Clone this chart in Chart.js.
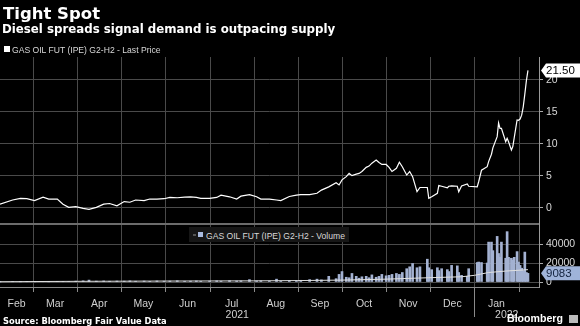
<!DOCTYPE html>
<html>
<head>
<meta charset="utf-8">
<script src="https://cdn.jsdelivr.net/npm/chart.js@4/dist/chart.umd.min.js"></script>
<style>
  body { margin: 0; background: #000; }
  #wrap { position: relative; width: 580px; height: 326px; overflow: hidden; background: #000; }
  canvas { position: absolute; left: 0; top: 0; }
  .t { position: absolute; white-space: nowrap; line-height: 1; color: #fff; }
  #title { left: 3px; top: 3.5px; font: bold 16.5px "DejaVu Sans", sans-serif; }
  #sub { left: 2px; top: 22px; font: bold 11.8px "DejaVu Sans", sans-serif; }
  .leg { font: 8.6px "Liberation Sans", Arial, sans-serif; color: #d8d8d8; }
  #leg1 { left: 12px; top: 45px; }
  #sq1 { position: absolute; left: 4px; top: 46px; width: 6px; height: 6px; background: #fff; }
  #legbox { position: absolute; left: 189px; top: 227px; width: 160px; height: 15px; background: #161616; }
  #dot2 { position: absolute; left: 193px; top: 234px; width: 3px; height: 2px; background: #555; }
  #sq2 { position: absolute; left: 198px; top: 232px; width: 5px; height: 5px; background: #a9bbe0; }
  #leg2 { left: 206px; top: 230.6px; }
  #src { left: 3px; top: 315.7px; font: bold 8.3px "DejaVu Sans", sans-serif; }
  #bbg { left: 507px; top: 312px; font: bold 10.6px "Liberation Sans", Arial, sans-serif; }
  #logo { position: absolute; left: 569px; top: 315px; width: 9px; height: 8px; background: #bbb; }
</style>
</head>
<body>
<div id="wrap">
  <canvas id="chart" width="580" height="326"></canvas>
  <div class="t" id="title">Tight Spot</div>
  <div class="t" id="sub">Diesel spreads signal demand is outpacing supply</div>
  <div id="sq1"></div>
  <div class="t leg" id="leg1">GAS OIL FUT (IPE) G2-H2 - Last Price</div>
  <div id="legbox"></div>
  <div id="dot2"></div>
  <div id="sq2"></div>
  <div class="t leg" id="leg2">GAS OIL FUT (IPE) G2-H2 - Volume</div>
  <div class="t" id="src">Source: Bloomberg Fair Value Data</div>
  <div class="t" id="bbg">Bloomberg</div>
  <div id="logo"></div>
</div>
<script>
// data
const dates = [
  '2021-02-08','2021-02-16','2021-02-21','2021-02-25',
  '2021-03-02','2021-03-08','2021-03-12','2021-03-18','2021-03-22','2021-03-26','2021-03-31',
  '2021-04-05','2021-04-09','2021-04-14','2021-04-19','2021-04-23','2021-04-28',
  '2021-05-03','2021-05-07','2021-05-11','2021-05-17','2021-05-21','2021-05-26','2021-05-31',
  '2021-06-04','2021-06-09','2021-06-14','2021-06-18','2021-06-22','2021-06-25',
  '2021-07-01','2021-07-06','2021-07-09','2021-07-15','2021-07-20','2021-07-23','2021-07-29',
  '2021-08-03','2021-08-06','2021-08-12','2021-08-17','2021-08-20','2021-08-26','2021-08-31',
  '2021-09-03','2021-09-09','2021-09-14','2021-09-17','2021-09-22','2021-09-27','2021-09-29',
  '2021-10-01','2021-10-04','2021-10-06','2021-10-08','2021-10-11','2021-10-13','2021-10-15',
  '2021-10-18','2021-10-20','2021-10-22','2021-10-25','2021-10-27','2021-10-29',
  '2021-11-01','2021-11-03','2021-11-05','2021-11-08','2021-11-10','2021-11-12','2021-11-15',
  '2021-11-17','2021-11-19','2021-11-22','2021-11-24','2021-11-29','2021-11-30',
  '2021-12-02','2021-12-06','2021-12-07','2021-12-09','2021-12-13','2021-12-14','2021-12-16',
  '2021-12-20','2021-12-21','2021-12-23','2021-12-27','2021-12-28',
  '2022-01-03','2022-01-04','2022-01-06','2022-01-10','2022-01-11','2022-01-13','2022-01-14',
  '2022-01-17','2022-01-18','2022-01-19','2022-01-20','2022-01-23','2022-01-24','2022-01-25',
  '2022-01-27','2022-01-28','2022-01-29','2022-01-31',
  '2022-02-01','2022-02-02','2022-02-03','2022-02-04','2022-02-05','2022-02-06','2022-02-07'
];
const lastPrice = [
  0.6, 1.25, 1.5, 1.45,
  1.15, 1.7, 1.4, 1.4, 0.6, 0.1, 0.2,
  -0.05, -0.2, 0.1, 0.6, 0.7, 0.35,
  1.0, 0.9, 1.25, 1.15, 1.4, 1.4, 1.45,
  1.65, 1.6, 1.7, 1.75, 1.65, 1.5,
  1.5, 1.65, 2.0, 1.75, 1.4, 1.85, 2.1,
  1.75, 1.4, 1.4, 1.25, 1.15, 1.8, 2.0,
  2.1, 2.1, 2.3, 2.8, 3.3, 3.95, 3.6,
  4.4, 4.9, 5.4, 5.05, 5.3, 5.4, 5.7,
  6.35, 6.55, 7.0, 7.5, 7.1, 6.8,
  6.8, 6.35, 5.7, 6.2, 7.15, 6.45, 5.15,
  5.7, 4.9, 2.55, 3.2, 3.2, 1.5,
  1.75, 2.3, 3.5, 3.4, 3.15, 3.4, 3.45,
  3.4, 2.55, 3.45, 3.75, 3.4,
  3.3, 4.1, 5.9, 6.45, 7.25, 8.4, 9.4,
  11.15, 13.3, 12.45, 12.45, 10.35, 10.9, 10.35,
  9.05, 9.6, 11.0, 13.75,
  13.7, 13.9, 14.5, 15.8, 17.8, 19.9, 21.5
];
const volume = [
  200, 300, 200, 300,
  200, 300, 200, 400, 300, 500, 900,
  1200, 2000, 900, 1100, 800, 1000,
  900, 1200, 800, 1000, 700, 1100, 900,
  1000, 1300, 800, 900, 1100, 800,
  1000, 1200, 900, 1400, 1000, 1200, 2500,
  1100, 1300, 1000, 3000, 900, 1500, 1300,
  1800, 2500, 3000, 2200, 6000, 3500, 8000,
  11000, 5000, 4500, 9000, 6000, 4000, 5500,
  6000, 4500, 7500, 5000, 6000, 8000,
  6500, 7000, 8000, 9000, 8000, 10000, 14000,
  16000, 19500, 15000, 16000, 24000, 15000,
  13000, 15000, 12000, 14000, 13000, 11000, 17500,
  17000, 10000, 7000, 6000, 14000,
  20500, 21000, 20500, 20000, 42000, 42000, 33000,
  48000, 30000, 26000, 42000, 25000, 53000, 26000,
  25000, 23000, 26000, 32000,
  21000, 17500, 14500, 12000, 31500, 10000, 9083
];
const avgDates = ['2021-02-08','2021-04-01','2021-06-01','2021-08-01','2021-09-01','2021-10-01',
  '2021-11-01','2021-11-30','2021-12-23','2022-01-01','2022-01-11','2022-01-23','2022-02-07'];
const avgVolume = [300, 700, 1000, 1200, 1500, 2000, 3000, 4500, 5500, 7000, 10000, 11500, 13000];

const months = ['Feb','Mar','Apr','May','Jun','Jul','Aug','Sep','Oct','Nov','Dec','Jan'];
const years = ['2021', '2022'];
const priceTicks = [0, 5, 10, 15, 20];
const volumeTicks = [0, 20000, 40000];

// date -> months since 1 Feb 2021 (month boundaries are whole numbers)
function toM(s) {
  const [y, mo, d] = s.split('-').map(Number);
  const dim = new Date(y, mo, 0).getDate();
  return (y - 2021) * 12 + (mo - 2) + (d - 1) / dim;
}

const xMin = toM('2021-02-08');
const xMax = toM('2022-02-14');
const yearBreak = toM('2022-01-01');

const grid = '#4a4a4a';

function tag(ctx, x, yc, text, fill, color) {
  const h = 14;
  ctx.fillStyle = fill;
  ctx.beginPath();
  ctx.moveTo(x, yc);
  ctx.lineTo(x + 5, yc - h / 2);
  ctx.lineTo(580, yc - h / 2);
  ctx.lineTo(580, yc + h / 2);
  ctx.lineTo(x + 5, yc + h / 2);
  ctx.closePath();
  ctx.fill();
  ctx.fillStyle = color;
  ctx.font = '11.5px "Liberation Sans", Arial, sans-serif';
  ctx.textBaseline = 'middle';
  ctx.textAlign = 'left';
  ctx.fillText(text, x + 5, yc + 0.5);
}

const decor = {
  id: 'decor',
  beforeDatasetsDraw(chart) {
    // month gridlines through both panels
    const { ctx, chartArea: a, scales: { x } } = chart;
    ctx.save();
    ctx.strokeStyle = grid;
    ctx.lineWidth = 1;
    for (let k = 1; k <= 12; k++) {
      const px = Math.round(x.getPixelForValue(k)) + 0.5;
      ctx.beginPath();
      ctx.moveTo(px, a.top);
      ctx.lineTo(px, a.bottom);
      ctx.stroke();
    }
    ctx.restore();
  },
  afterDraw(chart) {
    const { ctx, chartArea: a, scales } = chart;
    const { x, y, y2 } = scales;
    ctx.save();
    // line between the two panels
    ctx.fillStyle = '#6c6c6c';
    ctx.fillRect(0, Math.round(y2.top) - 1, a.right, 2);
    // month tick marks and the long tick between the years
    ctx.strokeStyle = '#8a8a8a';
    ctx.lineWidth = 1;
    for (let k = 1; k <= 12; k++) {
      const px = Math.round(x.getPixelForValue(k)) + 0.5;
      ctx.beginPath();
      ctx.moveTo(px, a.bottom);
      ctx.lineTo(px, a.bottom + (k === yearBreak ? 30 : 5));
      ctx.stroke();
    }
    // last value tags
    const lp = lastPrice[lastPrice.length - 1];
    const lv = volume[volume.length - 1];
    tag(ctx, a.right + 2, y.getPixelForValue(lp), lp.toFixed(2), '#ffffff', '#000000');
    tag(ctx, a.right + 2, y2.getPixelForValue(lv), String(lv), '#9fb3d9', '#14233f');
    ctx.restore();
  }
};

const tickFont = { family: '"Liberation Sans", Arial, sans-serif', size: 10.5, lineHeight: 1.1 };

new Chart(document.getElementById('chart'), {
  type: 'line',
  data: {
    datasets: [
      {
        type: 'line',
        data: dates.map((d, i) => ({ x: toM(d), y: lastPrice[i] })),
        yAxisID: 'y',
        borderColor: '#ffffff',
        borderWidth: 1.2,
        pointRadius: 0,
        tension: 0,
        order: 1
      },
      {
        type: 'line',
        data: avgDates.map((d, i) => ({ x: toM(d), y: avgVolume[i] })),
        yAxisID: 'y2',
        borderColor: '#e0e0e0',
        borderWidth: 1,
        pointRadius: 0,
        order: 2
      },
      {
        type: 'bar',
        data: dates.map((d, i) => ({ x: toM(d), y: volume[i] })),
        yAxisID: 'y2',
        backgroundColor: '#a4b2d2',
        barThickness: 2,
        order: 3
      }
    ]
  },
  options: {
    responsive: false,
    animation: false,
    layout: { padding: { top: 57, left: 0, right: 0, bottom: 0 } },
    plugins: { legend: { display: false }, tooltip: { enabled: false } },
    scales: {
      x: {
        type: 'linear',
        min: xMin,
        max: xMax,
        offset: false,
        afterFit: s => { s.height = 39; },
        afterBuildTicks: s => {
          const t = [];
          months.forEach((m, k) => {
            const lo = Math.max(k, s.min), hi = Math.min(k + 1, s.max);
            t.push({ value: (lo + hi) / 2, text: m });
          });
          t.push({ value: (s.min + yearBreak) / 2 + 0.001, text: ['', years[0]] });
          t.push({ value: (yearBreak + s.max) / 2 + 0.001, text: ['', years[1]] });
          t.sort((a, b) => a.value - b.value);
          s.ticks = t;
        },
        grid: { display: false, offset: false },
        border: { display: true, color: '#8a8a8a' },
        ticks: {
          autoSkip: false,
          maxRotation: 0,
          padding: 3,
          color: '#d0d0d0',
          font: tickFont,
          callback: (v, i, ticks) => ticks[i].text
        }
      },
      y: {
        type: 'linear',
        position: 'right',
        stack: 'panels',
        stackWeight: 167,
        min: -2.5,
        max: 23.59,
        afterFit: s => { s.width = 41; },
        afterBuildTicks: s => { s.ticks = priceTicks.map(v => ({ value: v })); },
        grid: { color: grid, tickColor: '#aaaaaa', tickLength: 4 },
        border: { color: '#9a9a9a' },
        ticks: { color: '#d8d8d8', padding: 3, font: tickFont, callback: v => String(v) }
      },
      y2: {
        type: 'linear',
        position: 'right',
        stack: 'panels',
        stackWeight: 63,
        min: -5263,
        max: 61053,
        afterFit: s => { s.width = 41; },
        afterBuildTicks: s => { s.ticks = volumeTicks.map(v => ({ value: v })); },
        grid: { color: grid, tickColor: '#aaaaaa', tickLength: 4 },
        border: { color: '#9a9a9a' },
        ticks: { color: '#d8d8d8', padding: 3, font: tickFont, callback: v => String(v) }
      }
    }
  },
  plugins: [decor]
});
</script>
</body>
</html>
